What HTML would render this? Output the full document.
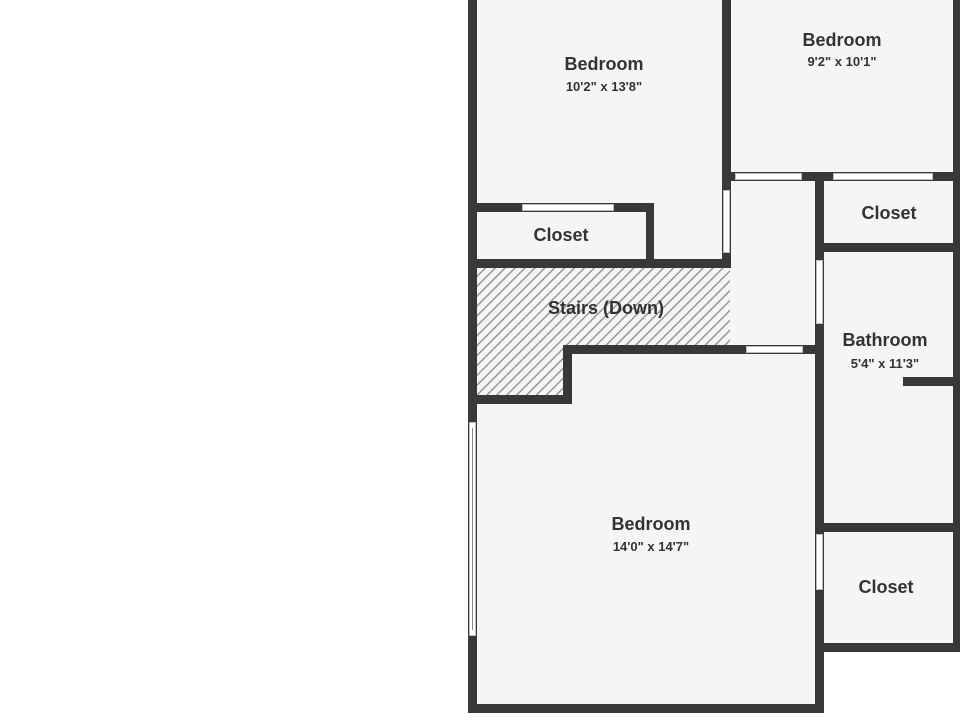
<!DOCTYPE html>
<html><head><meta charset="utf-8"><style>
html,body{margin:0;padding:0;background:#fff;}
svg{display:block;}
text{font-family:"Liberation Sans",sans-serif;fill:#333;text-anchor:middle;}
.t{font-weight:bold;font-size:18px;}
.d{font-weight:bold;font-size:13px;}
</style></head><body>
<svg width="960" height="720" viewBox="0 0 960 720" xmlns="http://www.w3.org/2000/svg">
<defs>
<pattern id="h" width="7" height="7" patternUnits="userSpaceOnUse" patternTransform="rotate(45)">
<rect width="7" height="7" fill="#f5f5f5"/>
<rect x="0" y="0" width="1.3" height="7" fill="#8a8a8a"/>
</pattern>
</defs>
<rect x="470" y="0" width="488" height="710" fill="#f5f5f5"/>
<rect x="824" y="652" width="136" height="68" fill="#fff"/>
<polygon points="477,268 730,268 730,345 563,345 563,395 477,395" fill="url(#h)"/>
<g fill="#383838">
<rect x="468" y="0" width="9" height="713"/>
<rect x="468" y="704" width="356" height="9"/>
<rect x="953" y="0" width="7" height="652"/>
<rect x="722" y="0" width="9" height="268"/>
<rect x="722" y="172" width="238" height="9"/>
<rect x="477" y="203" width="177" height="9"/>
<rect x="646" y="203" width="8" height="65"/>
<rect x="468" y="259" width="263" height="9"/>
<rect x="563" y="345" width="253" height="9"/>
<rect x="563" y="345" width="9" height="59"/>
<rect x="468" y="395" width="104" height="9"/>
<rect x="815" y="172" width="9" height="541"/>
<rect x="824" y="243" width="136" height="9"/>
<rect x="903" y="377" width="57" height="9"/>
<rect x="816" y="523" width="144" height="9"/>
<rect x="816" y="643" width="144" height="9"/>
</g>
<g fill="#fff" stroke="#bbb" stroke-width="1">
<rect x="522.5" y="204.5" width="91" height="6"/>
<rect x="723.5" y="190.5" width="6" height="62"/>
<rect x="735.5" y="173.5" width="66" height="6"/>
<rect x="833.5" y="173.5" width="99" height="6"/>
<rect x="816.5" y="260.5" width="6" height="63"/>
<rect x="746.5" y="346.5" width="56" height="6"/>
<rect x="816.5" y="534.5" width="6" height="55"/>
<rect x="469.5" y="422.5" width="6" height="213"/>
</g>
<line x1="472.5" y1="428" x2="472.5" y2="630" stroke="#888" stroke-width="1"/>
<text class="t" x="604" y="70">Bedroom</text>
<text class="d" x="604" y="91">10'2" x 13'8"</text>
<text class="t" x="842" y="46">Bedroom</text>
<text class="d" x="842" y="66">9'2" x 10'1"</text>
<text class="t" x="561" y="241">Closet</text>
<text class="t" x="889" y="219">Closet</text>
<text class="t" x="606" y="314">Stairs (Down)</text>
<text class="t" x="885" y="346">Bathroom</text>
<text class="d" x="885" y="368">5'4" x 11'3"</text>
<text class="t" x="651" y="530">Bedroom</text>
<text class="d" x="651" y="551">14'0" x 14'7"</text>
<text class="t" x="886" y="593">Closet</text>
</svg>
</body></html>
